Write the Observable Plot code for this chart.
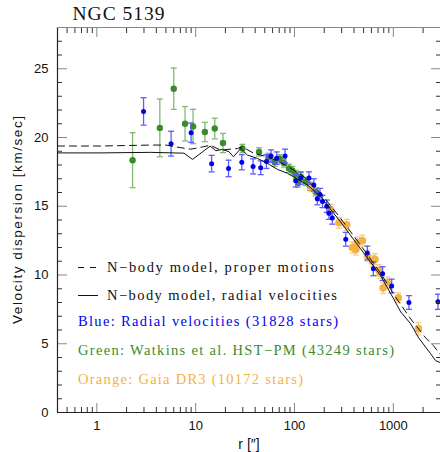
<!DOCTYPE html>
<html><head><meta charset="utf-8">
<script src="https://cdn.jsdelivr.net/npm/d3@7"></script>
<script src="https://cdn.jsdelivr.net/npm/@observablehq/plot@0.6"></script>
<style>body{margin:0;background:#fff}</style>
</head><body><div id="chart"></div>
<script>
// ---- data ----
const blueR = [2.97, 5.64, 8.99, 14.5, 21.5, 29.3, 38.1, 45.5, 52, 57.9, 66.1, 80.2, 102.8, 115.6, 140, 157, 170, 181, 192, 212, 223, 241, 330, 546, 628, 778, 962, 1438, 2826];
const blueV = [21.9, 19.55, 20.35, 18.1, 17.75, 18.2, 17.9, 17.8, 18.25, 18.65, 18.5, 18.65, 16.85, 17.05, 17.05, 16.55, 15.55, 15.85, 15.35, 15.0, 14.5, 14.15, 12.6, 11.6, 10.45, 10.1, 9.2, 8.0, 8.05];
const blueE = [1.0, 0.9, 0.7, 0.6, 0.6, 0.55, 0.55, 0.5, 0.5, 0.45, 0.45, 0.5, 0.45, 0.45, 0.45, 0.45, 0.45, 0.45, 0.45, 0.45, 0.45, 0.45, 0.5, 0.5, 0.5, 0.5, 0.5, 0.5, 0.55];

const greenR = [2.30, 4.34, 6.0, 7.81, 9.41, 12.4, 15.6, 18.9, 29.7, 43.8, 54.5, 63, 70.8, 78.1, 88, 95, 102.8, 109, 115.6, 129.8, 143.5, 163.8];
const greenV = [18.35, 20.7, 23.55, 21.0, 20.8, 20.4, 20.65, 19.6, 19.2, 18.95, 18.55, 18.2, 18.45, 18.15, 17.75, 17.6, 17.3, 16.7, 17.15, 16.8, 16.45, 16.05];
const greenE = [2.0, 2.1, 1.5, 1.25, 1.25, 0.7, 0.75, 0.7, 0.3, 0.3, 0.3, 0.3, 0.3, 0.3, 0.3, 0.3, 0.3, 0.3, 0.3, 0.3, 0.3, 0.3];

const orangeR = [148, 232, 282, 337, 385, 417, 432, 486, 546, 613, 652, 715, 734, 788, 869, 1123, 1790];
const orangeV = [16.35, 14.75, 13.8, 13.65, 12.0, 11.85, 12.35, 12.5, 11.4, 11.0, 11.15, 10.35, 10.15, 9.05, 9.45, 8.35, 6.1];
const orangeE = [0.3, 0.4, 0.4, 0.4, 0.4, 0.4, 0.4, 0.4, 0.4, 0.4, 0.4, 0.4, 0.4, 0.4, 0.4, 0.35, 0.45];

const solidR = [0.4, 1.1, 3.5, 7.6, 9.3, 11.7, 14.0, 16.0, 18.7, 21.8, 24.1, 28.6, 33.4, 42.2, 53.2, 67.2, 84.8, 135, 184, 293, 467, 744, 1008, 1186, 1497, 1803, 2385, 2679, 3000];
const solidV = [18.88, 18.88, 18.92, 18.86, 18.41, 18.95, 19.37, 19.04, 19.13, 18.96, 18.6, 19.2, 18.72, 18.48, 18.12, 17.68, 17.4, 16.55, 15.7, 13.85, 11.9, 9.95, 8.26, 7.32, 6.45, 5.43, 4.27, 3.77, 3.62];

const dashR = [0.4, 1.1, 3.5, 5.0, 6.5, 8.9, 12.1, 14.0, 17.9, 26.5, 29.7, 38.9, 53.2, 81.5, 125, 184, 293, 467, 744, 1055, 1497, 2123, 2555, 3000];
const dashV = [19.38, 19.38, 19.45, 19.45, 19.3, 19.15, 19.33, 19.44, 19.08, 19.2, 19.33, 18.84, 18.6, 18.0, 17.14, 15.94, 14.12, 12.16, 10.13, 8.39, 6.81, 5.43, 4.85, 4.2];

const xLabels = [1, 10, 100, 1000];
const xMinor = [0.4, 0.5, 0.6, 0.7, 0.8, 0.9, 2, 3, 4, 5, 6, 7, 8, 9, 20, 30, 40, 50, 60, 70, 80, 90, 200, 300, 400, 500, 600, 700, 800, 900, 2000, 3000];
const yLabels = [0, 5, 10, 15, 20, 25];
const yMinor = [1, 2, 3, 4, 6, 7, 8, 9, 11, 12, 13, 14, 16, 17, 18, 19, 21, 22, 23, 24, 26, 27, 28];

const title = "NGC 5139";
const xTitle = "r [\u2033]";
const yTitle = "Velocity dispersion [km/sec]";
const legendLines = ["N\u2212body model, proper motions", "N\u2212body model, radial velocities"];
const legendTexts = ["Blue: Radial velocities (31828 stars)", "Green: Watkins et al. HST\u2212PM (43249 stars)", "Orange: Gaia DR3 (10172 stars)"];

// ---- tables ----
const mk = (R, V, E) => R.map((r, i) => ({r, v: V[i], e: E[i]}));
const blue = mk(blueR, blueV, blueE);
const green = mk(greenR, greenV, greenE);
const orange = mk(orangeR, orangeV, orangeE);
const solid = solidR.map((r, i) => ({r, v: solidV[i]}));
const dashed = dashR.map((r, i) => ({r, v: dashV[i]}));

const cBlue = "#0000f0", cBlueE = "#5c5cff";
const cGreen = "#3b8b2b", cGreenE = "#82b870";
const cOrange = "#f4b244", cOrangeE = "#f6cd85";

const cap = {draw(ctx, size) { const w = Math.sqrt(size / Math.PI); ctx.moveTo(-w, 0); ctx.lineTo(w, 0); }};

function errMarks(data, col) {
  return [
    Plot.ruleX(data, {x: "r", y1: d => d.v - d.e, y2: d => d.v + d.e, stroke: col, strokeWidth: 1.3}),
    Plot.dot(data, {x: "r", y: d => d.v - d.e, symbol: cap, r: 3, stroke: col, fill: "none", strokeWidth: 1.3}),
    Plot.dot(data, {x: "r", y: d => d.v + d.e, symbol: cap, r: 3, stroke: col, fill: "none", strokeWidth: 1.3})
  ];
}

const chart = Plot.plot({
  width: 440, height: 452,
  marginLeft: 57, marginRight: 0, marginTop: 27, marginBottom: 40,
  style: {fontFamily: "'Liberation Sans', Arial, sans-serif", fontSize: "13px", background: "#fff", overflow: "visible"},
  x: {type: "log", domain: [0.4, 3000]},
  y: {domain: [0, 28]},
  marks: [
    // data
    ...errMarks(green, cGreenE),
    Plot.dot(green, {x: "r", y: "v", r: 3.2, fill: cGreen}),
    ...errMarks(orange, cOrangeE),
    Plot.dot(orange, {x: "r", y: "v", r: 3.8, fill: cOrange}),
    ...errMarks(blue, cBlueE),
    Plot.dot(blue, {x: "r", y: "v", r: 2.5, fill: cBlue}),
    // models
    Plot.line(dashed, {x: "r", y: "v", stroke: "#111", strokeWidth: 1, strokeDasharray: "7,5", clip: true}),
    Plot.line(solid, {x: "r", y: "v", stroke: "#111", strokeWidth: 1, clip: true}),
    // axes ticks (inward)
    Plot.axisX({anchor: "bottom", ticks: xLabels, tickSize: -9, text: null, label: null, stroke: "#888"}),
    Plot.axisX({anchor: "bottom", ticks: xMinor, tickSize: -5, text: null, label: null, stroke: "#333"}),
    Plot.axisX({anchor: "top", ticks: xLabels, tickSize: -9, text: null, label: null, stroke: "#888"}),
    Plot.axisX({anchor: "top", ticks: xMinor, tickSize: -5, text: null, label: null, stroke: "#333"}),
    Plot.axisX({anchor: "bottom", ticks: xLabels, tickSize: 0, tickPadding: 8, tickFormat: d => String(d), label: null, fill: "#111", fontSize: 13}),
    Plot.axisY({anchor: "left", ticks: yLabels, tickSize: -10, text: null, label: null, stroke: "#888"}),
    Plot.axisY({anchor: "left", ticks: yMinor, tickSize: -5, text: null, label: null, stroke: "#333"}),
    Plot.axisY({anchor: "right", ticks: yLabels, tickSize: -10, text: null, label: null, stroke: "#888"}),
    Plot.axisY({anchor: "right", ticks: yMinor, tickSize: -5, text: null, label: null, stroke: "#333"}),
    Plot.axisY({anchor: "left", ticks: yLabels, tickSize: 0, tickPadding: 9, label: null, fill: "#111", fontSize: 13}),
    // frame
    Plot.ruleY([0], {stroke: "#222", strokeWidth: 1.2}),
    Plot.ruleX([0.4], {stroke: "#222", strokeWidth: 1.2}),
    Plot.ruleY([28], {stroke: "#888", strokeWidth: 1.2}),
    // titles
    Plot.text([title], {text: d => d, frameAnchor: "top-left", dx: 15, dy: -8, lineAnchor: "bottom", textAnchor: "start", fontFamily: "'Liberation Serif', serif", fontSize: 19.5, fill: "#111"}),
    Plot.text([xTitle], {text: d => d, frameAnchor: "bottom", dy: 32, lineAnchor: "middle", fontSize: 14, fill: "#111"}),
    Plot.text([yTitle], {text: d => d, frameAnchor: "left", dx: -40, rotate: -90, lineAnchor: "middle", textAnchor: "middle", fontSize: 13.5, fill: "#111"})
  ]
});
document.getElementById("chart").appendChild(chart);

// title letter spacing
d3.select(chart).selectAll("text").filter(function() { return this.textContent === title; }).attr("letter-spacing", 1);
d3.select(chart).selectAll("text").filter(function() { return this.textContent === yTitle; }).attr("textLength", 208).attr("lengthAdjust", "spacing");

// legend
const svg = d3.select(chart);
const lg = svg.append("g").attr("font-family", "'Liberation Serif', 'DejaVu Serif', serif").attr("font-size", 14.5).attr("text-anchor", "start");
const lineRows = [{y: 267.5, dash: "6,6", w: 227}, {y: 295.5, dash: null, w: 230}];
lineRows.forEach((row, i) => {
  const l = lg.append("line").attr("x1", 78).attr("x2", 98).attr("y1", row.y).attr("y2", row.y).attr("stroke", "#111").attr("stroke-width", 1);
  if (row.dash) l.attr("stroke-dasharray", row.dash);
  lg.append("text").attr("x", 107).attr("y", row.y + 4.5).attr("fill", "#111").attr("text-anchor", "start").text(legendLines[i])
    .attr("textLength", row.w).attr("lengthAdjust", "spacing");
});
const textRows = [{y: 326, c: cBlue, w: 260}, {y: 355, c: cGreen, w: 316}, {y: 384, c: cOrange, w: 225}];
textRows.forEach((row, i) => {
  lg.append("text").attr("x", 78).attr("y", row.y).attr("fill", row.c).attr("text-anchor", "start").text(legendTexts[i])
    .attr("textLength", row.w).attr("lengthAdjust", "spacing");
});
</script>
</body></html>
